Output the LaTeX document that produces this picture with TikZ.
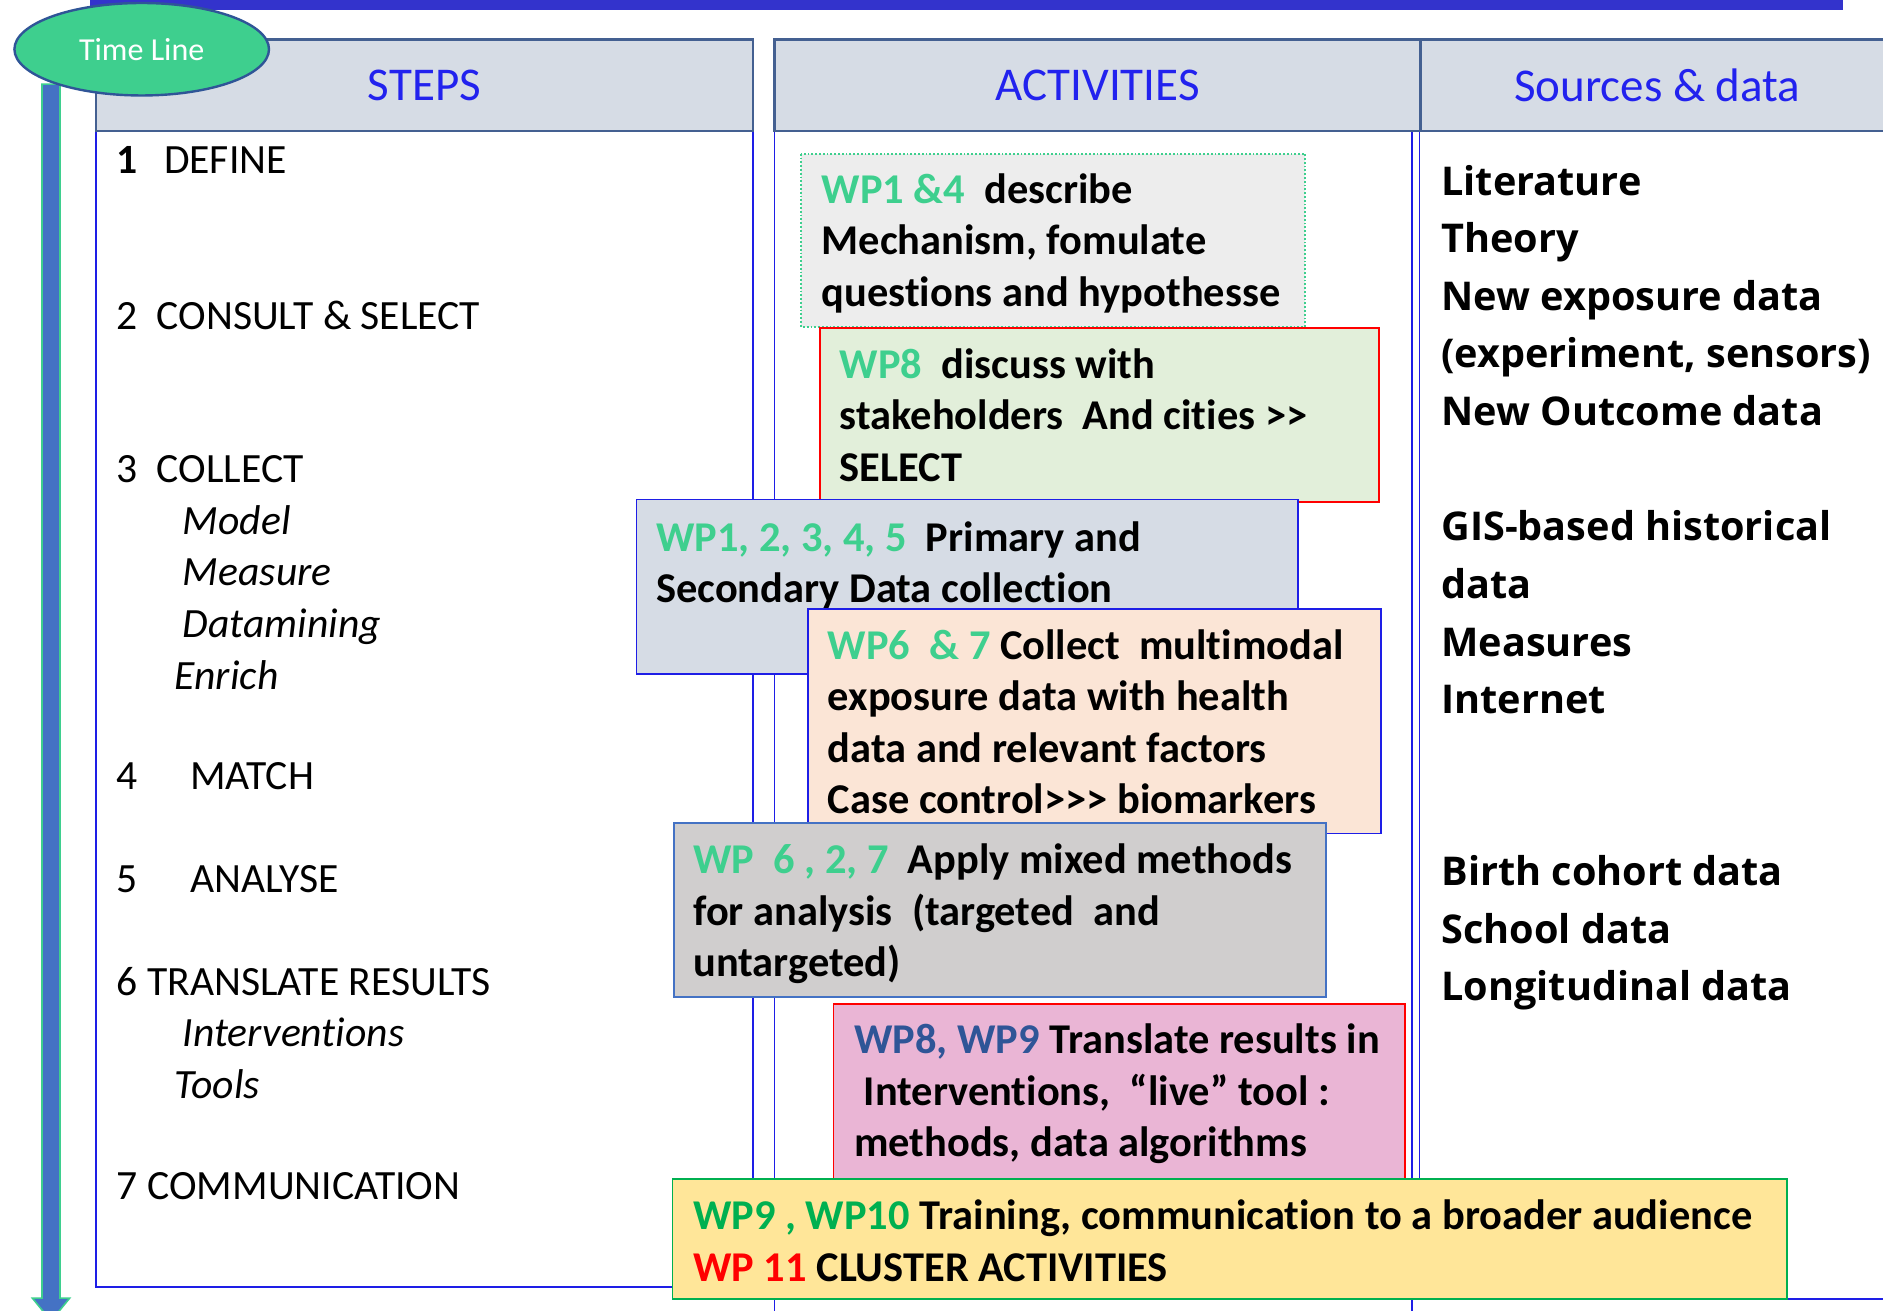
\documentclass[tikz,border=0pt]{standalone}
\usepackage{fontspec}
\setmainfont{Carlito}[Ligatures={TeX,NoCommon}]
\newfontfamily\srcfont{Open Sans}
\usetikzlibrary{shapes.geometric}

\definecolor{barblue}{RGB}{51,51,204}
\definecolor{headfill}{RGB}{214,220,229}
\definecolor{headedge}{RGB}{68,96,145}
\definecolor{headtext}{RGB}{34,34,238}
\definecolor{colline}{RGB}{30,30,230}
\definecolor{wpgreen}{RGB}{62,207,142}
\definecolor{wpblue}{RGB}{47,85,151}
\definecolor{wpdeep}{RGB}{0,176,80}
\definecolor{arrowblue}{RGB}{68,114,196}
\definecolor{greyfill}{RGB}{237,237,237}
\definecolor{greenfill}{RGB}{226,239,218}
\definecolor{peachfill}{RGB}{251,229,214}
\definecolor{stonefill}{RGB}{208,206,206}
\definecolor{pinkfill}{RGB}{234,181,213}
\definecolor{yellowfill}{RGB}{255,230,153}

\newcommand{\wplabel}[1]{\textcolor{wpgreen}{#1}}

\begin{document}
\begin{tikzpicture}[x=0.6pt,y=-0.6pt,
    header/.style={draw=headedge,line width=1.2pt,fill=headfill,text=headtext,
      font=\fontsize{23.5}{28}\selectfont,minimum height=45.6pt,inner sep=0},
    steptext/.style={anchor=north west,inner sep=0,align=left,
      font=\fontsize{20.8}{25.8}\selectfont},
    srctext/.style={anchor=north west,inner sep=0,align=left,
      font=\srcfont\bfseries\fontsize{19.8}{28.8}\selectfont},
    wpframe/.style={line width=0.9pt},
    wptext/.style={anchor=west,align=left,inner sep=0,
      font=\bfseries\fontsize{21.2}{25.8}\selectfont}]
  \useasboundingbox (0,0) rectangle (1568,1091);
  \fill[barblue] (75,-5) rectangle (1535,8);
  % columns
  \draw[colline,line width=0.9pt] (80,108) rectangle (627,1072);
  \draw[colline,line width=0.9pt] (645,108) rectangle (1176,1110);
  \draw[colline,line width=0.9pt] (1182,108) rectangle (1600,1082);
  \node[header,minimum width=328.2pt] (steps) at (353.5,71) {STEPS};
  \node[header,minimum width=322.8pt] (activities) at (914,71) {ACTIVITIES};
  \node[header,minimum width=236.4pt] (sources) at (1380,71) {Sources \& data};
  % time line
  \filldraw[fill=arrowblue,draw=wpgreen,line width=0.8pt] (35,70) -- (50,70) -- (50,1081)
    -- (58,1081) -- (42.5,1100) -- (27,1081) -- (35,1081) -- cycle;
  \node[ellipse,draw=wpblue,line width=1.2pt,fill=wpgreen,text=white,minimum width=127.2pt,
    minimum height=46.2pt,font=\fontsize{16}{19}\selectfont] (timeline) at (118,41) {Time Line};
  % steps
  \node[steptext] (define) at (97,122) {\textbf{1}\hspace{13pt}DEFINE};
  \node[steptext] (consult) at (97,250) {2~ CONSULT \& SELECT};
  \node[steptext] (collect) at (97,379) {3~ COLLECT\\
    \hspace*{33pt}\textit{Model}\\ \hspace*{33pt}\textit{Measure}\\
    \hspace*{33pt}\textit{Datamining}\\ \hspace*{28.8pt}\textit{Enrich}};
  \node[steptext] (match) at (97,635) {4\hspace{26pt}MATCH};
  \node[steptext] (analyse) at (97,720) {5\hspace{26pt}ANALYSE};
  \node[steptext] (translate) at (97,805) {6 TRANSLATE RESULTS\\
    \hspace*{33pt}\textit{Interventions}\\ \hspace*{28.8pt}\textit{Tools}};
  \node[steptext] (communicate) at (97,976) {7 COMMUNICATION};
  % sources
  \node[srctext] (srclit) at (1200,137) {Literature\\Theory\\New exposure data\\
    (experiment, sensors)\\New Outcome data};
  \node[srctext] (srcgis) at (1200,425) {GIS-based historical\\data\\Measures\\Internet};
  \node[srctext] (srccohort) at (1200,712) {Birth cohort data\\School data\\Longitudinal data};
  % activities
  \filldraw[wpframe,draw=wpgreen,densely dotted,fill=greyfill] (667,128) rectangle (1087,272);
  \node[wptext] (wp14) at (684,202.5)
    {\wplabel{WP1 \&4}~ describe\\ Mechanism, fomulate\\ questions and hypothesse};
  \filldraw[wpframe,draw=red,fill=greenfill] (683,273) rectangle (1148,418);
  \node[wptext] (wp8) at (699,345.5)
    {\wplabel{WP8}~ discuss with\\ stakeholders~ And cities >{}>\\ SELECT};
  \filldraw[wpframe,draw=colline,fill=headfill] (530,416) rectangle (1081,561);
  \node[wptext] (wp15) at (546,471)
    {\wplabel{WP1, 2, 3, 4, 5}~ Primary and\\ Secondary Data collection};
  \filldraw[wpframe,draw=colline,fill=peachfill] (673,507) rectangle (1150,694);
  \node[wptext] (wp67) at (689,601)
    {\wplabel{WP6~ \& 7} Collect~ multimodal\\ exposure data with health\\
    data and relevant factors\\ Case control>{}>{}> biomarkers};
  \filldraw[wpframe,draw=arrowblue,fill=stonefill] (561,685) rectangle (1104,830);
  \node[wptext] (wp627) at (577,761)
    {\wplabel{WP~ 6 , 2, 7}~ Apply mixed methods\\ for analysis~ (targeted~ and\\ untargeted)};
  \filldraw[wpframe,draw=red,fill=pinkfill] (694,836) rectangle (1170,982);
  \node[wptext] (wp89) at (711,911)
    {\textcolor{wpblue}{WP8, WP9} Translate results in\\
    \hspace*{4.8pt}Interventions,~ “live” tool :\\ methods, data algorithms};
  \filldraw[wpframe,draw=wpdeep,fill=yellowfill] (560,982) rectangle (1488,1082);
  \node[wptext] (wp910) at (577,1033)
    {\textcolor{wpdeep}{WP9 , WP10} Training, communication to a broader audience\\
    \textcolor{red}{WP 11} CLUSTER ACTIVITIES};
\end{tikzpicture}
\end{document}
